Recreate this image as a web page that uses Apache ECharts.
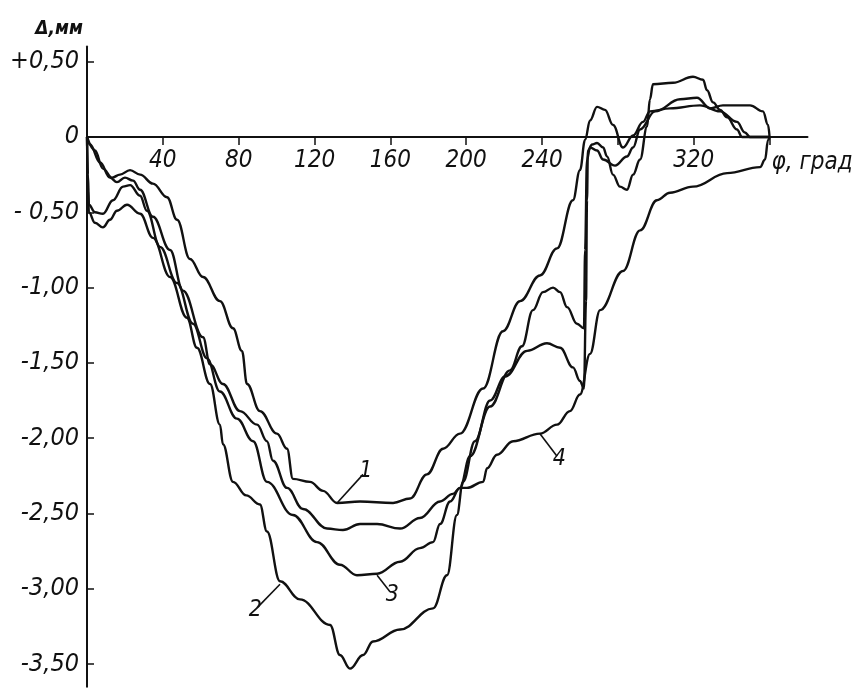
<!DOCTYPE html>
<html>
<head>
<meta charset="utf-8">
<script src="https://cdn.jsdelivr.net/npm/echarts@6/dist/echarts.min.js"></script>
<style>
  html, body { margin: 0; padding: 0; background: #fff; }
  #chart { width: 859px; height: 689px; }
</style>
</head>
<body>
<div id="chart"></div>
<script>
// ось φ, град и отметки
var xTicks = [40, 80, 120, 160, 200, 240, 280, 320, 360];
var xLabels = [40, 80, 120, 160, 200, 240, 320];
var yTicks = [0.5, 0, -0.5, -1, -1.5, -2, -2.5, -3, -3.5];

// кривые [φ, Δ]
var curve1 = [
  [0, 0], [4.2, -0.09], [8.4, -0.21], [13.2, -0.27], [17.4, -0.25], [22.7, -0.22],
  [28, -0.25], [34.8, -0.31], [42.2, -0.4], [47.5, -0.55], [54.3, -0.81], [61.2, -0.93],
  [70.1, -1.09], [77, -1.27], [81.7, -1.42], [84.4, -1.64], [91.2, -1.82], [100.2, -1.97],
  [105.5, -2.07], [108.6, -2.27], [117.6, -2.29], [124.5, -2.35], [131.9, -2.43],
  [144, -2.42], [161.4, -2.43], [170.4, -2.4], [179.3, -2.24], [187.8, -2.07],
  [196.7, -1.97], [208.9, -1.67], [219.4, -1.29], [228.4, -1.09], [238.9, -0.92],
  [247.9, -0.74], [256.3, -0.42], [260, -0.22], [262.7, -0.02], [265.3, 0.11],
  [269, 0.2], [273.2, 0.18], [277.4, 0.08], [282.7, -0.07], [288, 0.01], [293.2, 0.1],
  [296.9, 0.17], [307.5, 0.19], [323.3, 0.21], [333.9, 0.17], [342.8, 0.1],
  [347, 0.03], [349.7, 0], [360, 0]
];
var curve2 = [
  [0, 0], [0.5, -0.35], [1, -0.5], [4.2, -0.57], [8.4, -0.6], [12.1, -0.55], [15.8, -0.49],
  [21.1, -0.45], [28, -0.51], [34.8, -0.67], [43.8, -0.93], [52.7, -1.2], [58, -1.4],
  [64.9, -1.64], [70.1, -1.91], [71.7, -2.04], [77, -2.29], [84, -2.38], [91.2, -2.44],
  [94.9, -2.62], [101.8, -2.95], [112.3, -3.07], [128.2, -3.24], [133.4, -3.44],
  [138.7, -3.53], [145.6, -3.44], [150.8, -3.35], [165.1, -3.27], [182.5, -3.13],
  [189.9, -2.91], [195.1, -2.51], [198.3, -2.29], [204.6, -2.02], [212.6, -1.75],
  [220.5, -1.59], [232.1, -1.42], [242.6, -1.37], [249.5, -1.4], [256.3, -1.53],
  [260, -1.62], [262.1, -1.67], [263.2, -1.09], [263.7, -0.42], [264.2, -0.09],
  [266.4, -0.05], [269, -0.04], [272.2, -0.07], [274.3, -0.13], [277.4, -0.25],
  [281.1, -0.33], [284.8, -0.35], [288, -0.25], [291.7, -0.15], [295.4, 0.07],
  [296.9, 0.25], [298.5, 0.35], [309.1, 0.36], [319.6, 0.4], [324.9, 0.38], [327, 0.31],
  [330.2, 0.23], [333.9, 0.18], [337.6, 0.13], [342.8, 0.05], [345.5, 0], [360, 0]
];
var curve3 = [
  [0, 0], [0.5, -0.25], [1, -0.45], [4.2, -0.5], [8.4, -0.51], [13.7, -0.42], [19, -0.33],
  [22.7, -0.32], [28, -0.39], [31.6, -0.49], [38.5, -0.73], [47.5, -0.97], [55.9, -1.24],
  [63.3, -1.47], [70.1, -1.69], [79.1, -1.87], [87.6, -2.02], [94.9, -2.29],
  [108.6, -2.51], [121.3, -2.69], [133.4, -2.84], [142.4, -2.91], [153, -2.9],
  [165.1, -2.82], [175.6, -2.73], [182.5, -2.69], [186.2, -2.57], [191.5, -2.42],
  [196.7, -2.33], [202, -2.12], [212.6, -1.79], [223.1, -1.55], [229.4, -1.39],
  [235.2, -1.15], [240.5, -1.03], [245.8, -1], [249.5, -1.03], [253.2, -1.13],
  [258.4, -1.24], [262.1, -1.27], [262.7, -0.75], [263.7, -0.15], [265.3, -0.07],
  [269, -0.09], [272.2, -0.15], [278.5, -0.19], [284.8, -0.13], [288, -0.07],
  [291.7, 0.05], [299.6, 0.17], [312.8, 0.25], [321.7, 0.26], [328.6, 0.19],
  [335.4, 0.21], [349.7, 0.21], [356.5, 0.17], [359.2, 0.08], [360, 0]
];
var curve4 = [
  [0, 0], [1.6, -0.05], [6.9, -0.17], [12.1, -0.27], [15.8, -0.3], [20, -0.27],
  [24.3, -0.29], [28, -0.35], [34.8, -0.53], [43.8, -0.75], [50.6, -1.02], [61.2, -1.33],
  [64.9, -1.51], [71.7, -1.64], [80.7, -1.82], [89.7, -1.91], [94.9, -2.02],
  [98.1, -2.15], [105.5, -2.33], [113.9, -2.47], [126.6, -2.6], [135, -2.61],
  [144, -2.57], [153, -2.57], [165.1, -2.6], [175.6, -2.53], [186.2, -2.42],
  [193, -2.37], [196.7, -2.33], [200.4, -2.33], [208.9, -2.29], [211, -2.2],
  [216.2, -2.11], [224.7, -2.02], [238.9, -1.97], [247.9, -1.91], [254.7, -1.82],
  [260, -1.71], [265.3, -1.44], [270.6, -1.15], [282.7, -0.89], [291.7, -0.62],
  [300.6, -0.42], [307.5, -0.37], [319.6, -0.33], [337.6, -0.24], [355, -0.2],
  [357.6, -0.15], [359.2, -0.02], [360, 0]
];

// выноски с номерами кривых: [от, до]
var leader1 = [[131.9, -2.43], [145.6, -2.24]];
var leader2 = [[101.8, -2.97], [90.2, -3.12]];
var leader3 = [[153, -2.91], [159.8, -3.02]];
var leader4 = [[238.9, -1.97], [247.9, -2.12]];

var font = "'DejaVu Sans Condensed', 'DejaVu Sans', sans-serif";

function fmtY(v) {
  if (v === 0) return '0';
  var s = Math.abs(v).toFixed(2).replace('.', ',');
  if (v > 0) return '+' + s;
  return (v === -0.5 ? '- ' : '-') + s;
}

function makeSeries(name, data, leader) {
  return {
    name: name,
    type: 'line',
    data: data,
    showSymbol: false,
    smooth: 0.4,
    smoothMonotone: 'x',
    lineStyle: { color: '#111', width: 2.4 },
    markLine: {
      silent: true,
      symbol: ['none', 'none'],
      lineStyle: { color: '#111', width: 1.6, type: 'solid' },
      label: {
        show: true,
        position: 'end',
        formatter: name,
        color: '#111',
        fontFamily: font,
        fontStyle: 'italic',
        fontSize: 23,
        distance: 4
      },
      data: [[{ coord: leader[0] }, { coord: leader[1] }]]
    }
  };
}

var myChart = echarts.init(document.getElementById('chart'));
myChart.setOption({
  animation: false,
  backgroundColor: '#fff',
  grid: {
    left: 87,
    right: 51.5,
    top: 46.6,
    bottom: 2.3,
    containLabel: false,
    outerBoundsMode: 'none'
  },
  xAxis: {
    type: 'value',
    min: 0,
    max: 380,
    position: 'bottom',
    offset: -549.7,
    name: 'φ, град',
    nameLocation: 'end',
    nameGap: -36,
    nameTextStyle: {
      color: '#111',
      fontFamily: font,
      fontStyle: 'italic',
      fontSize: 24,
      align: 'left',
      verticalAlign: 'top',
      padding: [14, 0, 0, 0]
    },
    axisLine: { onZero: false, lineStyle: { color: '#111', width: 2 } },
    axisTick: { show: true, length: 8, customValues: xTicks, lineStyle: { color: '#111', width: 1.5 } },
    axisLabel: {
      customValues: xLabels,
      color: '#111',
      fontFamily: font,
      fontStyle: 'italic',
      fontSize: 24,
      margin: 12
    },
    splitLine: { show: false }
  },
  yAxis: {
    type: 'value',
    min: -3.65,
    max: 0.6,
    name: 'Δ,мм',
    nameLocation: 'end',
    nameGap: 8,
    nameTextStyle: {
      color: '#111',
      fontFamily: font,
      fontStyle: 'italic',
      fontWeight: 'bold',
      fontSize: 19,
      align: 'right',
      verticalAlign: 'bottom',
      padding: [0, 4, 0, 0]
    },
    axisLine: { show: true, lineStyle: { color: '#111', width: 2 } },
    axisTick: { show: true, inside: true, length: 7, customValues: yTicks, lineStyle: { color: '#111', width: 1.5 } },
    axisLabel: {
      customValues: yTicks,
      formatter: fmtY,
      color: '#111',
      fontFamily: font,
      fontStyle: 'italic',
      fontSize: 25,
      margin: 8
    },
    splitLine: { show: false }
  },
  series: [
    makeSeries('1', curve1, leader1),
    makeSeries('2', curve2, leader2),
    makeSeries('3', curve3, leader3),
    makeSeries('4', curve4, leader4)
  ]
});
</script>
</body>
</html>
